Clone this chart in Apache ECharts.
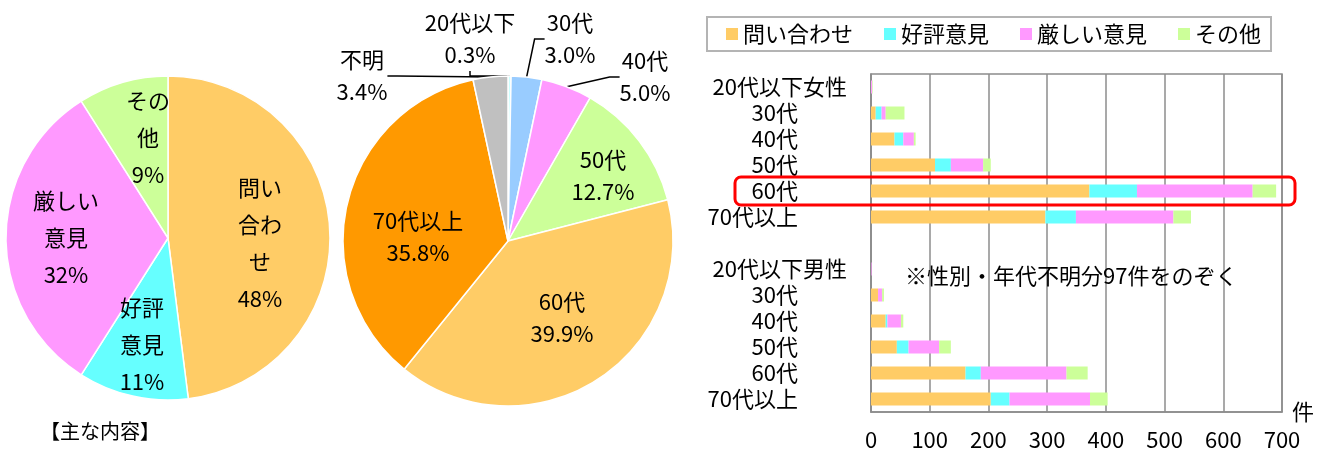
<!DOCTYPE html>
<html>
<head>
<meta charset="utf-8">
<script src="https://cdn.jsdelivr.net/npm/echarts@6/dist/echarts.min.js"></script>
<style>
  html, body { margin: 0; padding: 0; background: #fff; }
  #main { width: 1325px; height: 450px; }
</style>
</head>
<body>
<div id="main"></div>
<script>
// 主な内容 (%)
const contentNames = ['問い合わせ', '好評意見', '厳しい意見', 'その他']
const contentPct = [48, 11, 32, 9]
const contentLabels = ['問い\n合わ\nせ', '好評\n意見', '厳しい\n意見', 'その\n他']

// 年代 (%)
const ageNames = ['20代以下', '30代', '40代', '50代', '60代', '70代以上', '不明']
const agePct = [0.3, 3.0, 5.0, 12.7, 39.9, 35.8, 3.4]

// 性別・年代別 件数 (女性 6行, 空き, 男性 6行)
const rowLabels = ['20代以下女性', '30代', '40代', '50代', '60代', '70代以上', '',
  '20代以下男性', '30代', '40代', '50代', '60代', '70代以上']
const inquiry = [0, 8, 40, 109, 372, 297, '-', 0, 12, 25, 44, 161, 204]
const good = [0, 10, 15, 27, 81, 52, '-', 0, 0, 3, 20, 26, 32]
const severe = [2, 7, 18, 55, 197, 166, '-', 1, 7, 23, 52, 146, 137]
const other = [1, 32, 3, 13, 40, 30, '-', 0, 3, 4, 20, 36, 30]

const barColors = ['#FFCC66', '#66FFFF', '#FF99FF', '#CCFF99']
const ageColors = ['#CCFFFF', '#99CCFF', '#FF99FF', '#CCFF99', '#FFCC66', '#FF9900', '#C0C0C0']
const gray = '#8c8c8c'

// label anchor points (text centres)
const leftLabelAt = [[260, 243], [142, 345], [66, 238], [148, 138]]
const ageLabelAt = [[470, 39], [570, 39], [645, 77], [603, 176], [562, 318], [418, 237], [362, 76]]

let myChart = echarts.init(document.getElementById('main'))

function barSeries(name, values, color) {
  return {
    name: name,
    type: 'bar',
    stack: 'total',
    barWidth: 13,
    silent: true,
    itemStyle: { color: color },
    data: values
  }
}

let option = {
  animation: false,
  textStyle: { fontFamily: 'Noto Sans CJK JP' },
  title: [
    {
      text: '【主な内容】',
      left: 40,
      top: 421,
      padding: 0,
      textStyle: { fontSize: 20, fontWeight: 'normal', color: '#000' }
    },
    {
      text: '※性別・年代不明分97件をのぞく',
      left: 905,
      top: 265,
      padding: 0,
      textStyle: { fontSize: 22, fontWeight: 'normal', color: '#000' }
    }
  ],
  legend: {
    data: contentNames,
    left: 707,
    top: 17,
    padding: [6, 10, 6, 19],
    itemGap: 31,
    itemWidth: 12,
    itemHeight: 12,
    icon: 'rect',
    selectedMode: false,
    borderColor: '#b4b4b4',
    borderWidth: 2,
    textStyle: { fontSize: 22, color: '#000' }
  },
  grid: {
    left: 871,
    right: 43,
    top: 74,
    bottom: 38,
    show: true,
    borderColor: gray,
    borderWidth: 1.5,
    containLabel: false,
    outerBoundsMode: 'none'
  },
  xAxis: {
    type: 'value',
    min: 0,
    max: 700,
    interval: 100,
    name: '件',
    nameLocation: 'end',
    nameGap: 10,
    nameMoveOverlap: false,
    nameTextStyle: { fontSize: 22, color: '#000', padding: [12, 0, 0, 0] },
    axisLine: { show: true, lineStyle: { color: gray, width: 1.5 } },
    axisTick: { show: false },
    axisLabel: { fontSize: 22, color: '#000', margin: 17 },
    splitLine: { show: true, lineStyle: { color: gray, width: 1.5 } }
  },
  yAxis: {
    type: 'category',
    data: rowLabels,
    inverse: true,
    axisLine: { show: true, lineStyle: { color: gray, width: 1.5 } },
    axisTick: { show: false },
    splitLine: { show: false },
    axisLabel: {
      interval: 0,
      fontSize: 22,
      color: '#000',
      margin: 24,
      formatter: function(v) {
        // short labels sit one column further left
        return v.length > 5 ? v : '{p|' + v + '}'
      },
      rich: {
        p: { fontSize: 22, color: '#000', padding: [0, 49, 0, 0] }
      }
    }
  },
  series: [
    barSeries('問い合わせ', inquiry, barColors[0]),
    barSeries('好評意見', good, barColors[1]),
    barSeries('厳しい意見', severe, barColors[2]),
    barSeries('その他', other, barColors[3]),
    {
      name: '主な内容',
      type: 'pie',
      center: [168, 238],
      radius: 162,
      startAngle: 90,
      clockwise: true,
      silent: true,
      avoidLabelOverlap: false,
      itemStyle: { borderColor: '#fff', borderWidth: 1.5 },
      label: {
        position: 'inside',
        fontSize: 22,
        lineHeight: 37,
        color: '#000',
        formatter: function(p) {
          return contentLabels[p.dataIndex] + '\n' + p.value + '%'
        }
      },
      labelLine: { show: false },
      labelLayout: function(p) {
        let at = leftLabelAt[p.dataIndex]
        return { x: at[0], y: at[1], align: 'center', verticalAlign: 'middle' }
      },
      data: contentNames.map(function(n, i) {
        return { name: n, value: contentPct[i], itemStyle: { color: barColors[i] } }
      })
    },
    {
      name: '年代',
      type: 'pie',
      center: [508, 241],
      radius: 165,
      startAngle: 90,
      clockwise: true,
      silent: true,
      avoidLabelOverlap: false,
      itemStyle: { borderColor: '#fff', borderWidth: 1.5 },
      label: {
        fontSize: 22,
        lineHeight: 32,
        color: '#000',
        formatter: function(p) {
          return p.name + '\n' + p.value.toFixed(1) + '%'
        }
      },
      labelLine: { length: 10, length2: 10, lineStyle: { color: '#000', width: 1.5 } },
      labelLayout: function(p) {
        let at = ageLabelAt[p.dataIndex]
        return { x: at[0], y: at[1], align: 'center', verticalAlign: 'middle' }
      },
      data: ageNames.map(function(n, i) {
        let small = agePct[i] < 6
        return {
          name: n,
          value: agePct[i],
          itemStyle: { color: ageColors[i] },
          label: { position: small ? 'outside' : 'inside' },
          labelLine: { show: small }
        }
      })
    }
  ]
}

myChart.setOption(option)

// red frame round the 60代 女性 row
let y60 = myChart.convertToPixel({ yAxisIndex: 0 }, 4)
myChart.setOption({
  graphic: [{
    type: 'rect',
    z: 100,
    shape: { x: 735, y: y60 - 14, width: 560, height: 28, r: 6 },
    style: { fill: 'none', stroke: '#ff0000', lineWidth: 3 }
  }]
})
</script>
</body>
</html>
